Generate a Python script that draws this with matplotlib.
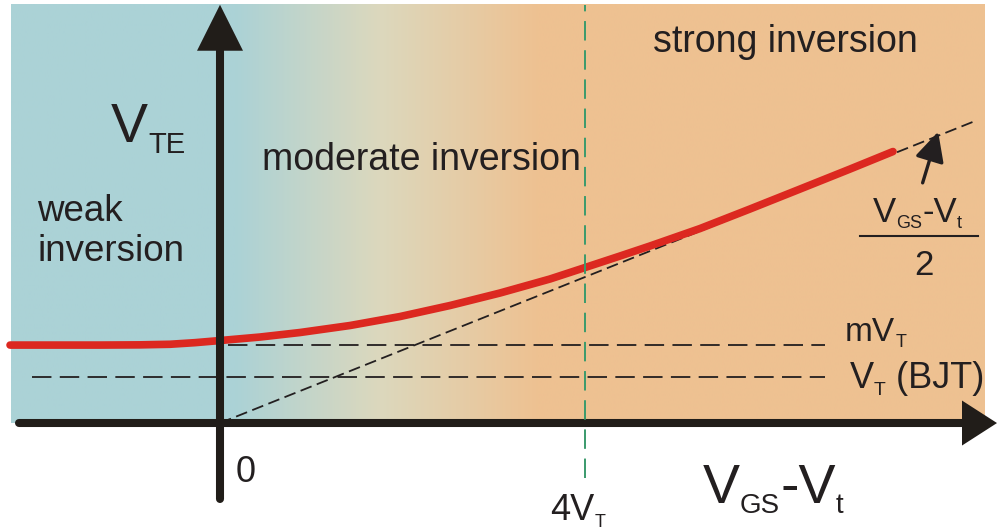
import numpy as np
import matplotlib
matplotlib.use('Agg')
import matplotlib.pyplot as plt
import matplotlib.transforms as mtransforms
from matplotlib.colors import LinearSegmentedColormap

plt.rcParams['font.family'] = ['Liberation Sans', 'DejaVu Sans']
plt.rcParams['lines.scale_dashes'] = False

# --- data (x in units of V_T, y = V_TE in arbitrary units) ---
vte_x = [-2.301, -1.315, -0.877, -0.548, -0.274, 0.0, 0.438, 0.877, 1.425,
         1.973, 2.521, 3.068, 3.616, 4.0, 4.384, 4.712, 5.260, 5.808,
         6.356, 6.904, 7.375]
vte_y = [1.068, 1.068, 1.071, 1.079, 1.101, 1.130, 1.178, 1.240, 1.336,
         1.459, 1.610, 1.781, 1.973, 2.130, 2.288, 2.425, 2.664, 2.932,
         3.205, 3.479, 3.719]
asym_x = [0.0, 8.30]            # (V_GS - V_t) / 2 asymptote
asym_y = [0.0, 4.15]
m_vt = 1.07                     # mV_T level
vt_bjt = 0.63                   # V_T (BJT) level
x_4vt = 4.0                     # 4 V_T boundary

W, H = 997, 531
ink = '#231f20'
axis_c = '#211d19'

fig = plt.figure(figsize=(W / 100, H / 100), dpi=100)
ax = fig.add_axes([0, 0, 1, 1])
ax.set_xlim(-2.411, 8.515)
ax.set_ylim(-1.479, 5.795)
ax.axis('off')

# background gradient: weak (blue) -> moderate -> strong (orange)
bg_x0, bg_x1 = -2.29, 8.38
gx = np.linspace(bg_x0, bg_x1, 1000)
gval = np.interp(gx, [0.16, 1.75, 3.5], [0.0, 0.5, 1.0])
cmap = LinearSegmentedColormap.from_list('bg', ['#abd2d6', '#dcd8bd', '#eec191'])
ax.imshow(gval[np.newaxis, :], cmap=cmap, vmin=0, vmax=1, aspect='auto',
          extent=(bg_x0, bg_x1, 0.0, 5.73), interpolation='bilinear', zorder=0)

# reference levels
ax.plot([0.09, 6.63], [m_vt, m_vt], color=ink, lw=1.3, dashes=(14, 6), zorder=2)
ax.plot([-2.06, 6.63], [vt_bjt, vt_bjt], color=ink, lw=1.3, dashes=(14, 6), zorder=2)
ax.plot(asym_x, asym_y, color=ink, lw=1.3, dashes=(8.5, 4), zorder=2)

# V_TE curve
ax.plot(vte_x, vte_y, color='#dc2820', lw=5.5, solid_capstyle='round',
        solid_joinstyle='round', zorder=3)

# axes with arrow heads
ax.plot([-2.2, 8.2], [0, 0], color=axis_c, lw=5.8, solid_capstyle='round', zorder=4)
ax.arrow(8.13, 0, 8.515 - 8.13, 0, width=0, head_width=45 / 73, head_length=35 / 91.25,
         length_includes_head=True, color=axis_c, lw=0, zorder=4)
ax.plot([0, 0], [-1.04, 5.2], color=axis_c, lw=5.8, solid_capstyle='round', zorder=4)
ax.arrow(0, 5.08, 0, 5.73 - 5.08, width=0, head_width=46 / 91.25, head_length=0.63,
         length_includes_head=True, color=axis_c, lw=0, zorder=4)

# 4V_T boundary
ax.plot([x_4vt, x_4vt], [-0.75, 5.73], color='#3a9a6c', lw=1.4, dashes=(14, 7), zorder=5)

# pointer to the asymptote
ax.annotate('', xy=(7.87, 3.99), xytext=(7.70, 3.29),
            arrowprops=dict(arrowstyle='-|>,head_length=1.0,head_width=0.5',
                            mutation_scale=18, lw=2.4, color=ink,
                            shrinkA=0, shrinkB=0), zorder=5)

# --- text, placed in pixel coordinates (origin top-left) ---
pix = mtransforms.Affine2D().scale(1, -1).translate(0, H)
renderer = fig.canvas.get_renderer()


def put(x, y, s, size, **kw):
    return ax.text(x, y, s, fontsize=size, transform=pix, va='baseline',
                   ha='left', color=ink, zorder=6, **kw)


def put_runs(x, y, runs):
    # runs: (text, fontsize, baseline shift in px)
    for s, size, dy in runs:
        t = put(x, y + dy, s, size)
        x += t.get_window_extent(renderer=renderer).width


put(653, 52, 'strong inversion', 27)
put(262, 170, 'moderate inversion', 27)
put(37, 221, 'weak', 26.5)
put(37, 261, 'inversion', 26.5)

put_runs(111, 142, [('V', 40, 0), ('TE', 21, 11)])
put_runs(703, 503, [('V', 40, 0), ('GS', 20, 10), ('-V', 40, 0), ('t', 20, 10)])
put_runs(873, 222, [('V', 25, 0), ('GS', 13, 6), ('-V', 25, 0), ('t', 13, 6)])
ax.plot([(860 - 220) / 91.25, (978 - 220) / 91.25], [(423 - 236) / 73] * 2,
        color=ink, lw=1.5, zorder=6)
put(914, 275, '2', 25)

put_runs(845, 341, [('mV', 24, 0), ('T', 13, 6)])
put_runs(850, 388, [('V', 26, 0), ('T', 14, 7), (' (BJT)', 26, 0)])
put(236, 482, '0', 26)
put_runs(550, 520, [('4V', 26, 0), ('T', 13, 7)])

fig.savefig('out.png', dpi=100)
